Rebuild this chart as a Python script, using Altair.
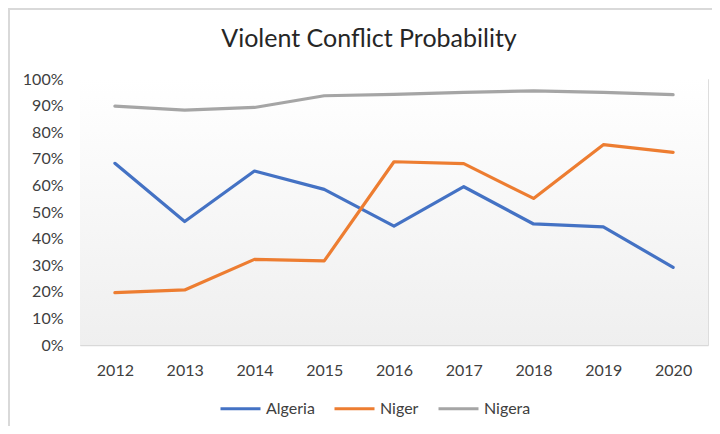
import altair as alt
import pandas as pd

years = ["2012", "2013", "2014", "2015", "2016", "2017", "2018", "2019", "2020"]
algeria = [0.683, 0.464, 0.654, 0.585, 0.447, 0.595, 0.455, 0.444, 0.292]
niger = [0.197, 0.207, 0.322, 0.316, 0.689, 0.682, 0.551, 0.753, 0.724]
nigera = [0.898, 0.883, 0.893, 0.937, 0.942, 0.950, 0.955, 0.950, 0.941]
series = ["Algeria", "Niger", "Nigera"]
colors = ["#4472C4", "#ED7D31", "#A5A5A5"]
y_ticks = [i / 10 for i in range(11)]

rows = []
for name, vals in zip(series, [algeria, niger, nigera]):
    for yr, v in zip(years, vals):
        rows.append({"Year": yr, "Country": name, "Value": v})
df = pd.DataFrame(rows)

FONT = "Lato"
W, H = 628, 266

grad = alt.LinearGradient(
    gradient="linear", x1=0, y1=0, x2=0, y2=1,
    stops=[alt.GradientStop(offset=0, color="#ffffff"),
           alt.GradientStop(offset=1, color="#efefef")])

bg = alt.Chart(df).mark_rect(color=grad).encode(
    x=alt.value(0), x2=alt.value(W), y=alt.value(0), y2=alt.value(H))

lines = alt.Chart(df).mark_line(strokeWidth=3.2, strokeCap="round", strokeJoin="round").encode(
    x=alt.X("Year:O", sort=years, title=None,
            scale=alt.Scale(padding=0.5),
            axis=alt.Axis(labelAngle=0, grid=True, gridColor="#d9d9d9", gridWidth=1,
                          domainColor="#d9d9d9", domainWidth=1.5, ticks=False, tickSize=0,
                          labelPadding=30, labelBaseline="alphabetic",
                          labelFont=FONT, labelFontSize=16, labelColor="#404040")),
    y=alt.Y("Value:Q", title=None,
            scale=alt.Scale(domain=[0, 1], nice=False),
            axis=alt.Axis(values=y_ticks, format=".0%", grid=False, domain=False, ticks=False,
                          tickSize=0, labelPadding=17, labelFont=FONT, labelFontSize=16,
                          labelColor="#404040")),
    color=alt.Color("Country:N", title=None,
                    scale=alt.Scale(domain=series, range=colors),
                    legend=alt.Legend(orient="none", legendX=139, legendY=308,
                                      direction="horizontal", symbolType="stroke",
                                      symbolSize=1600, symbolStrokeWidth=3, padding=0,
                                      labelFont=FONT, labelFontSize=16, labelColor="#404040",
                                      labelOffset=4, columnPadding=13)),
)

border_top = alt.Chart(df).mark_rule(color="#d9d9d9", strokeWidth=2).encode(
    x=alt.value(-71), x2=alt.value(640), y=alt.value(-70))
border_left = alt.Chart(df).mark_rule(color="#d9d9d9", strokeWidth=2).encode(
    x=alt.value(-71), y=alt.value(-71), y2=alt.value(360))

chart = alt.layer(bg, lines, border_top, border_left).properties(
    width=W, height=H,
    autosize=alt.AutoSizeParams(type="none"),
    padding={"left": 72, "top": 71, "right": 4, "bottom": 81},
    title=alt.TitleParams("Violent Conflict Probability", font=FONT, fontSize=25,
                          fontWeight="normal", color="#262626", anchor="middle",
                          dx=-25, offset=-45),
).configure_view(stroke=None).configure(background="#ffffff")

chart.save("out.html", embed_options={"renderer": "svg", "actions": False})
